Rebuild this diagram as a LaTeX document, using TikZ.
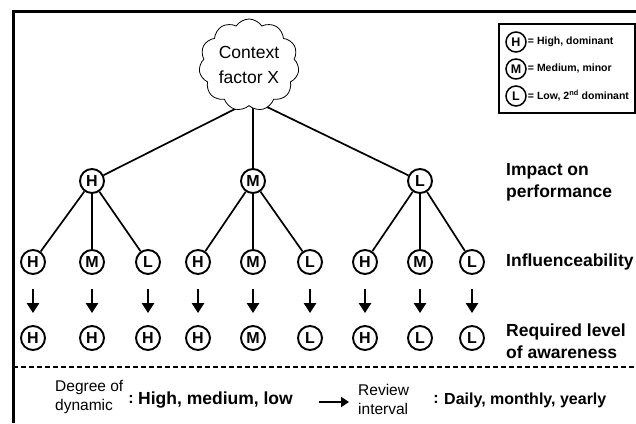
\documentclass[tikz,border=0pt]{standalone}
\usepackage{fontspec}
\setmainfont{Liberation Sans}
\usetikzlibrary{shapes.symbols,arrows.meta}
\pgfdeclarelayer{bg}
\pgfsetlayers{bg,main}
\begin{document}
\begin{tikzpicture}[x=1pt,y=-1pt,
  lvl/.style={circle,draw,line width=1.9pt,minimum size=24pt,inner sep=0pt,font=\bfseries\fontsize{16}{16}\selectfont},
  leg/.style={circle,draw,line width=1.5pt,minimum size=20pt,inner sep=0pt,font=\bfseries\fontsize{12.5}{12.5}\selectfont},
  legtxt/.style={anchor=west,inner sep=1pt,font=\bfseries\fontsize{10.5}{12}\selectfont},
  conn/.style={line width=1.7pt},
  darrow/.style={line width=2.8pt,-{Triangle[length=10pt,width=12pt]},shorten <=14pt,shorten >=12pt},
  rlabel/.style={anchor=west,align=left,inner sep=0pt,font=\bfseries\fontsize{17.5}{22}\selectfont},
  btxt/.style={anchor=west,align=left,inner sep=0pt,font=\fontsize{15.5}{19}\selectfont},
  bbold/.style={anchor=west,inner sep=0pt,font=\bfseries\fontsize{16}{19}\selectfont},
  cloudsty/.style={cloud,cloud puffs=11,cloud puff arc=115,aspect=1.1,draw,fill=white,line width=0.8pt,
    minimum width=100pt,minimum height=92pt,inner sep=0pt,align=center,font=\fontsize{17.5}{25}\selectfont}
]
\useasboundingbox (0,0) rectangle (636,423);
% frame
\draw[line width=3pt] (636,11) -- (13,11) -- (13,423);
% dashed separator
\draw[line width=2pt,dash pattern=on 5pt off 3pt] (13,367) -- (636,367);

% cloud
\node[cloudsty] (cloud) at (249,65) {Context\\factor X};

% level 1
\node[lvl] (h1) at (92,181) {H};
\node[lvl] (m1) at (253,181) {M};
\node[lvl] (l1) at (420,181) {L};

\coordinate (cl) at (241,106);
\coordinate (cm) at (253,106);
\coordinate (cr) at (265,106);
\begin{pgfonlayer}{bg}
\draw[conn] (cl) -- (h1);
\draw[conn] (cm) -- (m1);
\draw[conn] (cr) -- (l1);
\end{pgfonlayer}

% level 2
\node[lvl] (a1) at (33,262) {H};
\node[lvl] (a2) at (92,262) {M};
\node[lvl] (a3) at (148,262) {L};
\node[lvl] (a4) at (198,262) {H};
\node[lvl] (a5) at (253,262) {M};
\node[lvl] (a6) at (310,262) {L};
\node[lvl] (a7) at (365,262) {H};
\node[lvl] (a8) at (420,262) {M};
\node[lvl] (a9) at (472,262) {L};

\draw[conn] (h1) -- (a1);
\draw[conn] (h1) -- (a2);
\draw[conn] (h1) -- (a3);
\draw[conn] (m1) -- (a4);
\draw[conn] (m1) -- (a5);
\draw[conn] (m1) -- (a6);
\draw[conn] (l1) -- (a7);
\draw[conn] (l1) -- (a8);
\draw[conn] (l1) -- (a9);

% level 3
\node[lvl] (b1) at (33,338) {H};
\node[lvl] (b2) at (92,338) {H};
\node[lvl] (b3) at (148,338) {H};
\node[lvl] (b4) at (198,338) {H};
\node[lvl] (b5) at (253,338) {M};
\node[lvl] (b6) at (310,338) {L};
\node[lvl] (b7) at (365,338) {H};
\node[lvl] (b8) at (420,338) {L};
\node[lvl] (b9) at (472,338) {L};

\foreach \i in {1,...,9} {\draw[darrow] (a\i) -- (b\i);}

% right labels
\node[rlabel] (lab1) at (506,182) {Impact on\\performance};
\node[rlabel] (lab2) at (506,262) {Influenceability};
\node[rlabel] (lab3) at (506,341) {Required level\\of awareness};

% legend
\node[draw,line width=1.5pt,minimum width=136pt,minimum height=89pt,anchor=north west,inner sep=0pt] (legbox) at (498,23) {};
\node[leg] (lh) at (516,42) {H};
\node[leg] (lm) at (516,69) {M};
\node[leg] (ll) at (516,96) {L};
\node[legtxt] (th) at (lh.east) {= High, dominant};
\node[legtxt] (tm) at (lm.east) {= Medium, minor};
\node[legtxt] (tl) at (ll.east) {= Low, 2\textsuperscript{nd} dominant};

% bottom text
\node[btxt] (deg) at (55,397) {Degree of\\dynamic};
\node[bbold,anchor=center] (c1) at (131,399) {:};
\node[bbold,font=\bfseries\fontsize{17.5}{19}\selectfont] (hml) at (138,400) {High, medium, low};
\coordinate (ba1) at (319,402);
\coordinate (ba2) at (349,402);
\draw[line width=2.2pt,-{Triangle[length=8pt,width=10pt]}] (ba1) -- (ba2);
\node[btxt] (rev) at (358,399) {Review\\interval};
\node[bbold,anchor=center] (c2) at (436,399) {:};
\node[bbold] (dmy) at (444,400) {Daily, monthly, yearly};
\end{tikzpicture}
\end{document}
